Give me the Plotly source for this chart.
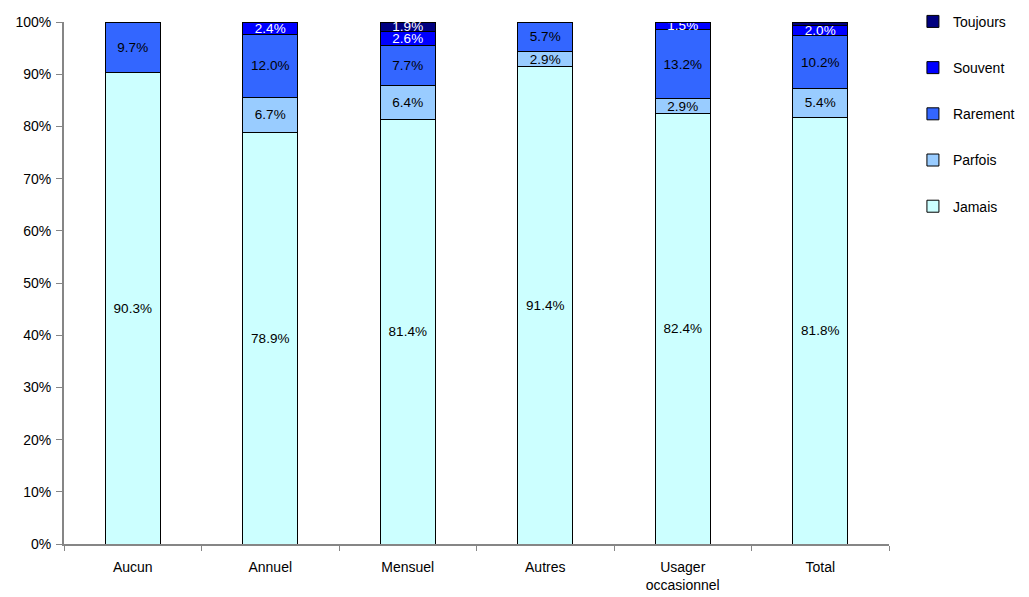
import plotly.graph_objects as go

categories = ["Aucun", "Annuel", "Mensuel", "Autres", "Usager<br>occasionnel", "Total"]

jamais = [90.3, 78.9, 81.4, 91.4, 82.4, 81.8]
parfois = [0.0, 6.7, 6.4, 2.9, 2.9, 5.4]
rarement = [9.7, 12.0, 7.7, 5.7, 13.2, 10.2]
souvent = [0.0, 2.4, 2.6, 0.0, 1.5, 2.0]
toujours = [0.0, 0.0, 1.9, 0.0, 0.0, 0.6]
toujours_labels = ["", "", "1.9%", "", "", ""]

series = [
    ("Jamais", jamais, "#CCFFFF", "#000000", None),
    ("Parfois", parfois, "#99CCFF", "#000000", None),
    ("Rarement", rarement, "#3366FF", "#000000", None),
    ("Souvent", souvent, "#0000FF", "#FFFFFF", None),
    ("Toujours", toujours, "#000080", "#FFFFFF", toujours_labels),
]

FONT = "Liberation Sans, Arial"

fig = go.Figure()
for i, (name, vals, color, tcolor, labels) in enumerate(series):
    if labels is None:
        labels = [f"{v:.1f}%" if v > 0 else "" for v in vals]
    fig.add_trace(go.Bar(
        name=name,
        x=categories,
        y=vals,
        text=labels,
        textposition="inside",
        insidetextanchor="middle",
        constraintext="none",
        textangle=0,
        textfont=dict(family=FONT, size=13.5, color=tcolor),
        marker=dict(color=color, line=dict(color="#000000", width=1)),
        width=0.4,
        legendgroup=name,
        legendrank=len(series) - i,
    ))

fig.update_layout(
    barmode="stack",
    width=1029,
    height=597,
    margin=dict(l=64, r=140, t=22, b=53, autoexpand=False),
    plot_bgcolor="white",
    paper_bgcolor="white",
    font=dict(family=FONT, size=14, color="#000000"),
    uniformtext=dict(minsize=13.5, mode="show"),
    showlegend=True,
    legend=dict(
        x=1.029, xanchor="left", xref="paper",
        y=1.031, yanchor="top",
        traceorder="grouped",
        tracegroupgap=25,
        font=dict(size=14),
        itemwidth=30,
    ),
    xaxis=dict(
        showline=True, linecolor="#868686", linewidth=2,
        ticks="outside", tickson="boundaries", ticklen=5, tickcolor="#868686",
        range=[-0.5, 5.5],
        tickfont=dict(size=14),
        ticklabelstandoff=9,
        automargin=False,
    ),
    yaxis=dict(
        range=[0, 100],
        tickvals=[0, 10, 20, 30, 40, 50, 60, 70, 80, 90, 100],
        ticktext=[f"{v}%" for v in range(0, 101, 10)],
        showline=True, linecolor="#868686", linewidth=2,
        ticks="outside", ticklen=6, tickcolor="#868686",
        showgrid=False, zeroline=False,
        tickfont=dict(size=14),
        ticklabelstandoff=2,
        automargin=False,
    ),
)

fig.write_html("out.html")
